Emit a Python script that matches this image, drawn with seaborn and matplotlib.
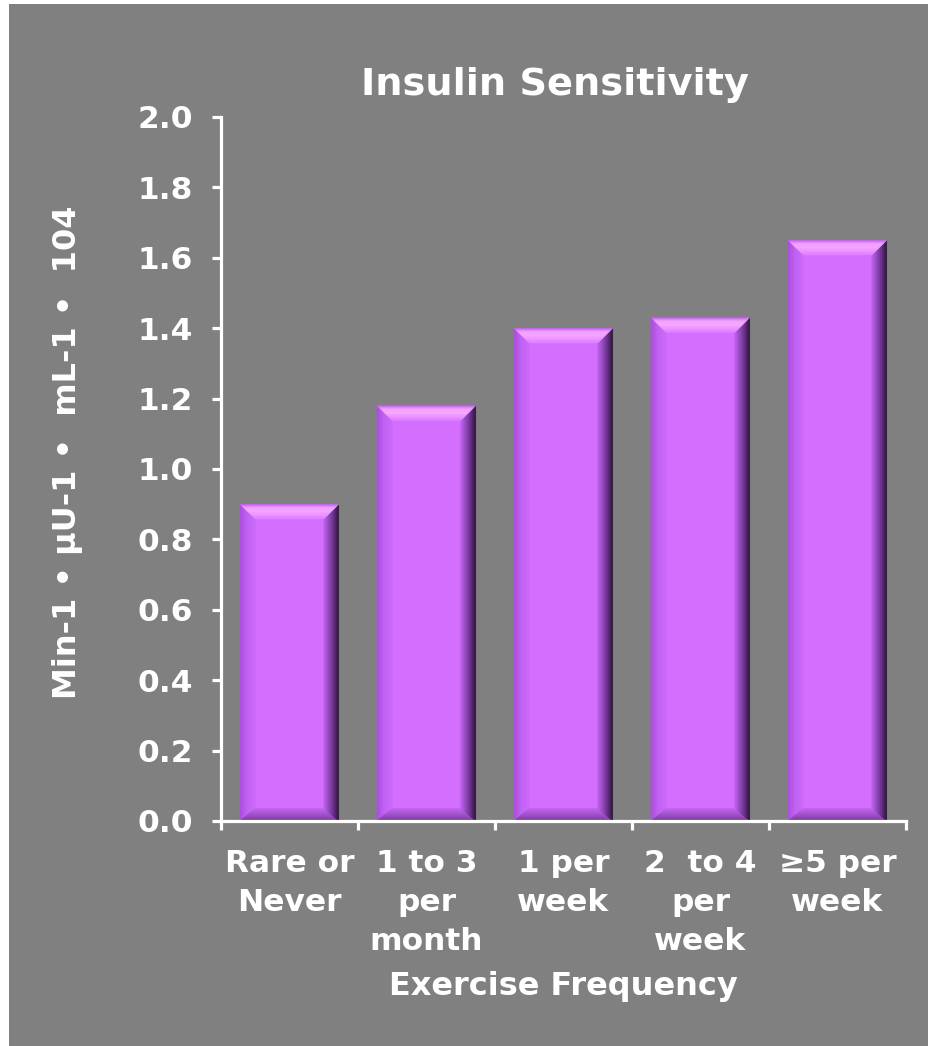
import numpy as np
import pandas as pd
import matplotlib
matplotlib.use("Agg")
import matplotlib.pyplot as plt
from matplotlib.patches import Polygon, Rectangle
from matplotlib.colors import to_rgb
import seaborn as sns

# Data
categories = ["Rare or\nNever", "1 to 3\nper\nmonth", "1 per\nweek", "2  to 4\nper\nweek", "\u22655 per\nweek"]
sensitivity = [0.90, 1.18, 1.40, 1.43, 1.65]
y_ticks = [0.0, 0.2, 0.4, 0.6, 0.8, 1.0, 1.2, 1.4, 1.6, 1.8, 2.0]

title = "Insulin Sensitivity"
x_title = "Exercise Frequency"
y_title = "Min-1 \u2022 \u00b5U-1 \u2022  mL-1 \u2022  104"

df = pd.DataFrame({"freq": categories, "value": sensitivity})

sns.set_style("white")
plt.rcParams["font.family"] = ["DejaVu Sans"]
plt.rcParams["font.weight"] = "bold"

BG = "#808080"
FACE = "#D36EFF"

fig = plt.figure(figsize=(9.29, 10.46), dpi=100, facecolor="white")
fig.patches.append(Rectangle((9 / 929, 0), 1, 1 - 4 / 1046, transform=fig.transFigure,
                             facecolor=BG, edgecolor="none", zorder=-10))

ax = fig.add_axes([221 / 929, 1 - 821 / 1046, (906 - 221) / 929, (821 - 117) / 1046])
ax.set_facecolor(BG)
ax.patch.set_alpha(0)

sns.barplot(data=df, x="freq", y="value", color=FACE, width=0.72,
            saturation=1, edgecolor="none", ax=ax)

ax.set_xlim(-0.5, len(categories) - 0.5)
ax.set_ylim(0, 2.0)


def blend(colors, t):
    # piecewise linear interpolation across a list of colours
    colors = [np.array(to_rgb(c)) for c in colors]
    n = len(colors) - 1
    pos = min(t * n, n - 1e-9)
    i = int(pos)
    f = pos - i
    return tuple(colors[i] * (1 - f) + colors[i + 1] * f)


def bevel(ax, outer, inner, colors, steps=14):
    (a, b), (a2, b2) = outer, inner
    a, b, a2, b2 = map(np.array, (a, b, a2, b2))
    for k in range(steps):
        t0, t1 = k / steps, (k + 1) / steps
        c = blend(colors, (t0 + t1) / 2)
        pts = [a + (a2 - a) * t0, b + (b2 - b) * t0, b + (b2 - b) * t1, a + (a2 - a) * t1]
        ax.add_patch(Polygon(pts, closed=True, facecolor=c, edgecolor=c,
                             linewidth=0.3, zorder=3))


# Beveled edges on each bar, built from the bar geometry
bx, by_top, by_bot = 0.11, 0.042, 0.036
for p in ax.patches[:len(categories)]:
    x0, w, h = p.get_x(), p.get_width(), p.get_height()
    x1, y0, y1 = x0 + w, 0.0, h
    TL, TR, BR, BL = (x0, y1), (x1, y1), (x1, y0), (x0, y0)
    iTL, iTR = (x0 + bx, y1 - by_top), (x1 - bx, y1 - by_top)
    iBR, iBL = (x1 - bx, y0 + by_bot), (x0 + bx, y0 + by_bot)
    # left
    bevel(ax, (TL, BL), (iTL, iBL), ["#A84ADA", "#C062F2", "#CC6AFC"])
    # bottom
    bevel(ax, (BL, BR), (iBL, iBR), ["#703490", "#8E44B6", "#AA56D6", "#C264F0"])
    # right
    bevel(ax, (TR, BR), (iTR, iBR), ["#24102E", "#4A1E60", "#74379A", "#9E4EC8", "#C062EE"])
    # top
    bevel(ax, (TL, TR), (iTL, iTR), ["#BA5EEA", "#F4A4FF", "#F7AAFF", "#EE98FF", "#DE80FF"])

for s in ["top", "right"]:
    ax.spines[s].set_visible(False)
for s in ["left", "bottom"]:
    ax.spines[s].set_color("white")
    ax.spines[s].set_linewidth(2.3)
    ax.spines[s].set_zorder(5)

ax.set_yticks(y_ticks)
ax.set_yticklabels([f"{v:.1f}" for v in y_ticks])
ax.tick_params(axis="y", left=True, direction="out", length=6.5, width=2.3, color="white",
               labelcolor="white", labelsize=22.5, pad=14)

ax.set_xticks(range(len(categories)))
ax.set_xticklabels(categories, linespacing=1.45)
ax.set_xticks(np.arange(-0.5, len(categories)), minor=True)
ax.tick_params(axis="x", which="major", bottom=False, length=0, labelcolor="white",
               labelsize=22.5, pad=20)
ax.tick_params(axis="x", which="minor", bottom=True, direction="out", length=6.5,
               width=2.3, color="white")
for lbl in ax.get_xticklabels() + ax.get_yticklabels():
    lbl.set_fontweight("bold")

ax.set_xlabel("")
ax.set_ylabel("")

fig.text(555 / 929, 1 - 85 / 1046, title, color="white", fontsize=27.5,
         fontweight="bold", ha="center", va="center")
fig.text(563 / 929, 1 - 987 / 1046, x_title, color="white", fontsize=23,
         fontweight="bold", ha="center", va="center")
fig.text(68 / 929, 1 - 452 / 1046, y_title, color="white", fontsize=23,
         fontweight="bold", ha="center", va="center", rotation=90)

fig.savefig("out.png", dpi=100, facecolor=fig.get_facecolor())
